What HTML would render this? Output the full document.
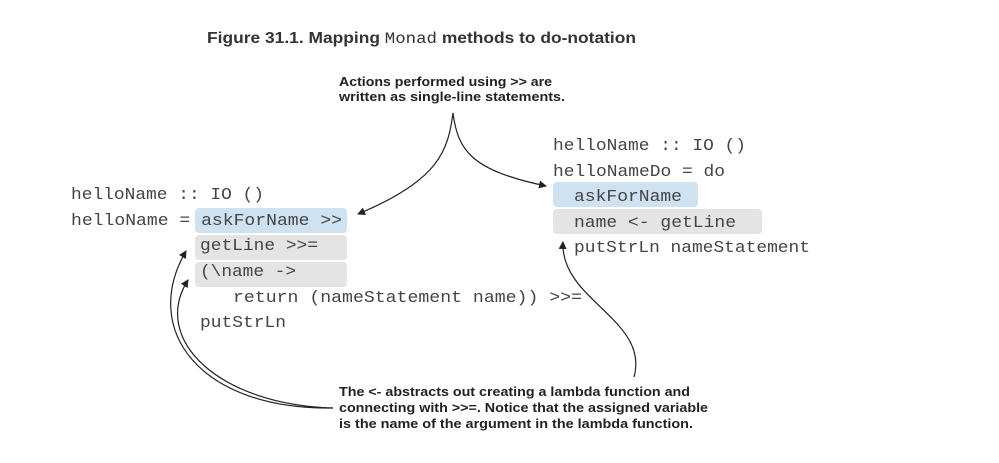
<!DOCTYPE html>
<html><head><meta charset="utf-8"><style>
html,body{margin:0;padding:0;background:#fff;width:999px;height:463px;overflow:hidden}
.m{font-family:"Liberation Mono",monospace;font-size:16.5px;fill:#444}
.c{font-family:"Liberation Sans",sans-serif;font-size:12.5px;font-weight:bold;fill:#222}
</style></head><body>
<svg width="999" height="463" viewBox="0 0 999 463" xmlns="http://www.w3.org/2000/svg">
<defs><marker id="a" markerWidth="8" markerHeight="8" refX="7" refY="4" orient="auto" markerUnits="userSpaceOnUse"><path d="M0,0 L8,4 L0,8 z" fill="#222"/></marker></defs>
<text x="207" y="43" font-family="Liberation Sans,sans-serif" font-size="15.5" font-weight="bold" fill="#333" textLength="429" lengthAdjust="spacingAndGlyphs">Figure 31.1. Mapping <tspan font-family="Liberation Mono,monospace" font-weight="normal">Monad</tspan> methods to do-notation</text>
<rect x="195" y="208" width="152" height="25" rx="4" fill="#cfe2f2"/>
<rect x="195" y="235" width="152" height="25" rx="4" fill="#e4e4e4"/>
<rect x="195" y="262" width="152" height="25" rx="4" fill="#e4e4e4"/>
<rect x="553" y="182" width="145" height="25" rx="4" fill="#cfe2f2"/>
<rect x="553" y="209" width="209" height="25" rx="4" fill="#e4e4e4"/>
<g class="m">
<text x="71" y="199" textLength="193" lengthAdjust="spacingAndGlyphs">helloName :: IO ()</text>
<text x="71" y="225" textLength="271" lengthAdjust="spacingAndGlyphs">helloName = askForName &gt;&gt;</text>
<text x="200" y="250" textLength="118" lengthAdjust="spacingAndGlyphs">getLine &gt;&gt;=</text>
<text x="200" y="276" textLength="96" lengthAdjust="spacingAndGlyphs">(\name -&gt;</text>
<text x="233" y="302" textLength="349" lengthAdjust="spacingAndGlyphs">return (nameStatement name)) &gt;&gt;=</text>
<text x="200" y="327" textLength="86" lengthAdjust="spacingAndGlyphs">putStrLn</text>
<text x="553" y="150" textLength="193" lengthAdjust="spacingAndGlyphs">helloName :: IO ()</text>
<text x="553" y="176" textLength="172" lengthAdjust="spacingAndGlyphs">helloNameDo = do</text>
<text x="574" y="201" textLength="108" lengthAdjust="spacingAndGlyphs">askForName</text>
<text x="574" y="227" textLength="162" lengthAdjust="spacingAndGlyphs">name &lt;- getLine</text>
<text x="574" y="252" textLength="236" lengthAdjust="spacingAndGlyphs">putStrLn nameStatement</text>
</g>
<g class="c">
<text x="339" y="86" textLength="213" lengthAdjust="spacingAndGlyphs">Actions performed using &gt;&gt; are</text>
<text x="339" y="101" textLength="226" lengthAdjust="spacingAndGlyphs">written as single-line statements.</text>
<text x="339" y="396" textLength="351" lengthAdjust="spacingAndGlyphs">The &lt;- abstracts out creating a lambda function and</text>
<text x="339" y="412" textLength="369" lengthAdjust="spacingAndGlyphs">connecting with &gt;&gt;=. Notice that the assigned variable</text>
<text x="339" y="428" textLength="354" lengthAdjust="spacingAndGlyphs">is the name of the argument in the lambda function.</text>
</g>
<g fill="none" stroke="#222" stroke-width="1.2">
<path d="M453,113 C448,150 440,180 358,214" marker-end="url(#a)"/>
<path d="M453,113 C458,150 470,170 546,186" marker-end="url(#a)"/>
<path d="M333,408 C200,410 140,330 186,251" marker-end="url(#a)"/>
<path d="M333,408 C220,405 150,340 188,280" marker-end="url(#a)"/>
<path d="M634,377 C650,320 560,300 563,242" marker-end="url(#a)"/>
</g>
</svg>
</body></html>
